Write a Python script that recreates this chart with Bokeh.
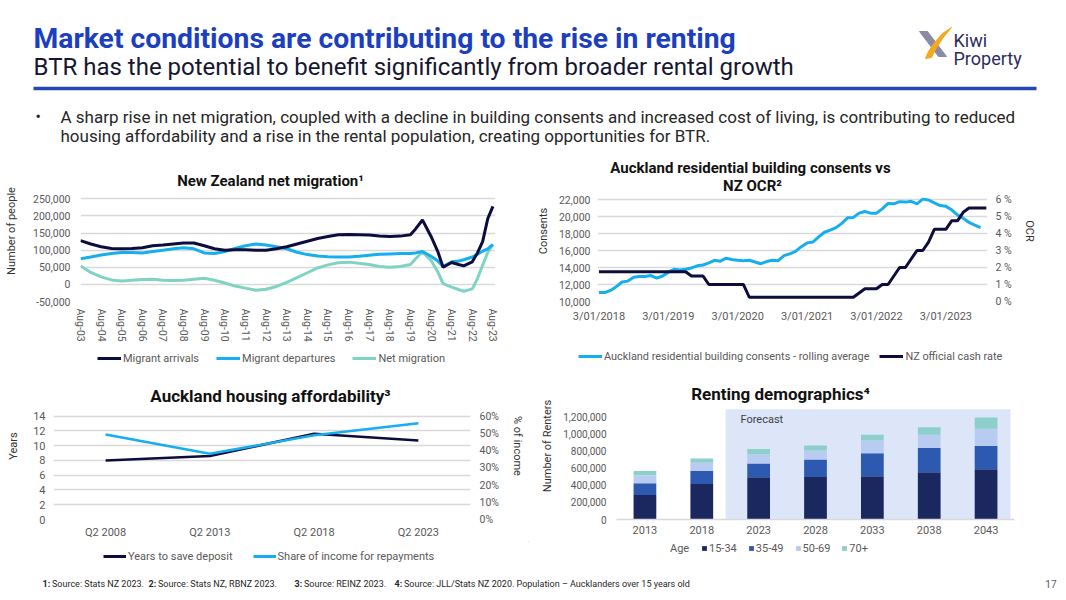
from bokeh.plotting import figure
from bokeh.models import (Range1d, FactorRange, LinearAxis, FixedTicker, NumeralTickFormatter,
                          Legend, LegendItem, ColumnDataSource, Label)
from bokeh.layouts import column, row
from bokeh.embed import file_html
from bokeh.resources import INLINE
from bokeh.core.properties import value

FONT = "Roboto"
NAVY = "#0d0d3d"
SKY = "#17aef0"
TEAL = "#7ed3c2"
GRID = "#d9d9d9"
TICK = "#595959"

# ---------------- data ----------------
mig_dates = ["2003-08", "2004-02", "2004-08", "2005-02", "2005-08", "2006-02", "2006-08", "2007-02",
             "2007-08", "2008-02", "2008-08", "2009-02", "2009-08", "2010-02", "2010-08", "2011-02",
             "2011-08", "2012-02", "2012-08", "2013-02", "2013-08", "2014-02", "2014-08", "2015-02",
             "2015-08", "2016-02", "2016-08", "2017-02", "2017-08", "2018-02", "2018-08", "2019-02",
             "2019-08", "2019-11", "2020-03", "2020-08", "2020-12", "2021-03", "2021-08", "2021-12",
             "2022-03", "2022-08", "2022-11", "2023-02", "2023-05", "2023-08"]
migrant_arrivals = [128, 118, 110, 105, 104, 105, 107, 113, 115, 118, 121, 121, 113, 104, 100, 101,
                    101, 100, 100, 104, 110, 118, 126, 134, 140, 145, 146, 145, 144, 141, 140, 141,
                    145, 162, 188, 140, 95, 50, 64, 58, 54, 66, 92, 125, 192, 228]
migrant_departures = [75, 80, 86, 90, 93, 93, 92, 96, 100, 104, 107, 104, 92, 90, 96, 105,
                      113, 118, 115, 110, 104, 94, 87, 83, 81, 80, 80, 82, 85, 88, 89, 90,
                      90, 92, 96, 82, 68, 52, 66, 68, 72, 80, 88, 97, 104, 117]
net_migration = [54, 35, 22, 13, 10, 12, 14, 15, 12, 11, 12, 15, 18, 12, 4, -5,
                 -11, -17, -14, -6, 6, 20, 34, 48, 57, 63, 65, 62, 58, 52, 50, 52,
                 58, 75, 95, 70, 36, 2, -8, -15, -20, -13, 17, 56, 93, 116]
mig_tick_labels = ["Aug-%02d" % (3 + i) for i in range(21)]

consents_k = [11.05, 11.05, 11.3, 11.75, 12.3, 12.4, 12.85, 12.95, 12.95, 13.05, 12.75, 13.0,
              13.45, 13.8, 13.7, 13.8, 13.95, 14.2, 14.3, 14.55, 14.85, 14.75, 15.1, 14.95,
              14.85, 14.8, 14.85, 14.65, 14.45, 14.7, 14.85, 14.8, 15.4, 15.6, 15.9, 16.45,
              16.9, 17.0, 17.6, 18.15, 18.4, 18.7, 19.2, 19.85, 19.9, 20.4, 20.6, 20.4,
              20.4, 20.9, 21.55, 21.5, 21.75, 21.7, 21.8, 21.5, 22.05, 21.95, 21.6, 21.3,
              21.2, 20.8, 20.2, 19.8, 19.3, 19.0, 18.7]
ocr = [1.75] * 12 + \
      [1.75, 1.75, 1.75, 1.75, 1.5, 1.5, 1.5, 1.0, 1.0, 1.0, 1.0, 1.0] + \
      [1.0, 1.0] + [0.25] * 10 + \
      [0.25] * 9 + [0.5, 0.75, 0.75] + \
      [0.75, 1.0, 1.0, 1.5, 2.0, 2.0, 2.5, 3.0, 3.0, 3.5, 4.25, 4.25] + \
      [4.25, 4.75, 4.75, 5.25, 5.5, 5.5, 5.5, 5.5]
ocr_tick_labels = ["3/01/2018", "3/01/2019", "3/01/2020", "3/01/2021", "3/01/2022", "3/01/2023"]

quarters = ["Q2 2008", "Q2 2013", "Q2 2018", "Q2 2023"]
years_to_save = [8.0, 8.6, 11.6, 10.7]
share_income = [49.3, 38.1, 48.9, 55.8]

rent_years = ["2013", "2018", "2023", "2028", "2033", "2038", "2043"]
age_groups = ["15-34", "35-49", "50-69", "70+"]
age_15_34 = [285000, 415000, 493000, 496000, 504000, 550000, 585000]
age_35_49 = [139000, 151000, 161000, 204000, 269000, 285000, 273000]
age_50_69 = [92000, 96000, 108000, 104000, 147000, 154000, 200000]
age_70p = [50000, 50000, 61000, 58000, 69000, 88000, 131000]
age_colors = ["#1b275f", "#2d5ab0", "#b8cbf1", "#8dcfcb"]


def top_of_range(v_lo, v_hi, px_lo, px_hi, px_top=0.0):
    """range end so that v_hi lands at px_hi when v_lo sits at px_lo (frame bottom)."""
    return v_hi + (px_hi - px_top) * (v_hi - v_lo) / (px_lo - px_hi)


def base_fig(w, h, xr, yr, left, right, bottom):
    p = figure(width=w, height=h, x_range=xr, y_range=yr, toolbar_location=None,
               output_backend="svg", min_border_left=left, min_border_right=right,
               min_border_top=0, min_border_bottom=bottom, outline_line_color=None,
               background_fill_color="white", border_fill_color="white")
    p.xgrid.visible = False
    p.ygrid.grid_line_color = GRID
    p.ygrid.grid_line_width = 1.5
    return p


def style_axis(ax, size="10.5px", standoff=8, label_standoff=8):
    ax.axis_line_color = None
    ax.major_tick_line_color = None
    ax.minor_tick_line_color = None
    ax.major_tick_out = 0
    ax.major_tick_in = 0
    ax.minor_tick_out = 0
    ax.minor_tick_in = 0
    ax.major_label_standoff = standoff
    ax.axis_label_standoff = label_standoff
    ax.major_label_text_font = FONT
    ax.major_label_text_font_size = size
    ax.major_label_text_color = TICK
    ax.axis_label_text_font = FONT
    ax.axis_label_text_font_style = "normal"
    ax.axis_label_text_font_size = "11px"
    ax.axis_label_text_color = "#333333"


def title_label(p, x, y, text, size="15px"):
    p.add_layout(Label(x=x, y=y, x_units="screen", y_units="screen", text=text,
                       text_font=FONT, text_font_size=size, text_font_style="bold",
                       text_color="#111111", text_align="center", text_baseline="middle"))


def blank_fig(w, h):
    return figure(width=w, height=h, x_range=Range1d(0, w), y_range=Range1d(h, 0),
                  x_axis_type=None, y_axis_type=None, toolbar_location=None, output_backend="svg",
                  min_border=0, outline_line_color=None)


def legend_strip(w, h, entries, loc, spacing, gw=24, gh=14, standoff=2, kind="line", size="11px"):
    """Separate strip holding a legend (keyed to proxies styled like the chart's marks)."""
    f = blank_fig(w, h)
    items = []
    for label, color in entries:
        if kind == "line":
            r = f.line([-60, -50], [-60, -60], line_color=color, line_width=3)
        else:
            alpha = 0 if color is None else 1
            r = f.vbar(x=[-60], top=[-50], bottom=[-60], width=5, fill_color=color or "white",
                       fill_alpha=alpha, line_color=None)
        items.append(LegendItem(label=label, renderers=[r]))
    lg = Legend(items=items, location=loc, orientation="horizontal", glyph_width=gw,
                glyph_height=gh, label_standoff=standoff, spacing=spacing, padding=0, margin=0,
                border_line_color=None, background_fill_alpha=0,
                label_text_font=FONT, label_text_font_size=size, label_text_color=TICK,
                label_height=gh)
    f.add_layout(lg)
    return f, lg


# ---------------- header ----------------
hdr = blank_fig(1066, 160)
hdr.text(x=[33], y=[38], text=["Market conditions are contributing to the rise in renting"],
         text_font=value(FONT), text_font_size="28.3px", text_font_style="bold",
         text_color="#1c3fc0", text_baseline="middle")
hdr.text(x=[33], y=[66], text=["BTR has the potential to benefit significantly from broader rental growth"],
         text_font=value(FONT), text_font_size="24px", text_color="#161630", text_baseline="middle")
hdr.segment(x0=[33], y0=[88], x1=[1036], y1=[88], line_color="#2347b5", line_width=3.5)
hdr.text(x=[35], y=[116], text=["\u2022"], text_font=value(FONT), text_font_size="16px",
         text_color="#262626", text_baseline="middle")
hdr.text(x=[60, 60], y=[116, 135],
         text=["A sharp rise in net migration, coupled with a decline in building consents and increased cost of living, is contributing to reduced",
               "housing affordability and a rise in the rental population, creating opportunities for BTR."],
         text_font=value(FONT), text_font_size="17px", text_color="#262626", text_baseline="middle")
# logo
hdr.patch(x=[919, 927, 946, 938], y=[31, 31, 56, 56], color="#8b8ca3")
hdr.patch(x=[951, 942, 934, 928, 925, 931, 935, 942], y=[27, 33, 42, 51, 58, 57, 49, 38], color="#f4a81d")
hdr.text(x=[953, 953], y=[40, 58], text=["Kiwi", "Property"], text_font=value(FONT),
         text_font_size="18px", text_color="#2b2d5c", text_baseline="middle")

# ---------------- top-left: migration ----------------
mig_x = [(int(d[:4]) - 2003) * 12 + int(d[5:]) - 8 for d in mig_dates]
TL_W, TL_H, TL_L, TL_R, TL_B = 528, 190, 80, 33, 49
fb = TL_H - TL_B
tl_top = top_of_range(-50000, 250000, fb, 38.3)
tl = base_fig(TL_W, TL_H, Range1d(0, 241.5), Range1d(-50000, tl_top), TL_L, TL_R, TL_B)
tl.ygrid.ticker = FixedTicker(ticks=list(range(-50000, 250001, 50000)))
tl.line(mig_x, [v * 1000 for v in net_migration], line_color=TEAL, line_width=3)
tl.line(mig_x, [v * 1000 for v in migrant_departures], line_color=SKY, line_width=3)
tl.line(mig_x, [v * 1000 for v in migrant_arrivals], line_color=NAVY, line_width=3)
tl.yaxis.ticker = FixedTicker(ticks=list(range(-50000, 250001, 50000)))
tl.yaxis.formatter = NumeralTickFormatter(format="0,0")
tl.yaxis.axis_label = "Number of people"
tl.xaxis.ticker = FixedTicker(ticks=[12 * i for i in range(21)])
tl.xaxis.major_label_overrides = {12 * i: lab for i, lab in enumerate(mig_tick_labels)}
tl.xaxis.major_label_orientation = "vertical"
style_axis(tl.yaxis[0], standoff=10, label_standoff=12)
style_axis(tl.xaxis[0], standoff=7)
title_label(tl, 190, 121, "New Zealand net migration\u00b9")
tl_leg, _ = legend_strip(TL_W, 22, [("Migrant arrivals", NAVY), ("Migrant departures", SKY),
                                    ("Net migration", TEAL)], (97, 7), spacing=17)

# ---------------- top-right: consents vs OCR ----------------
TR_W, TR_H, TR_L, TR_R, TR_B = 538, 190, 69, 79, 42
fb = TR_H - TR_B
tr_top = top_of_range(10000, 22000, fb, 41)
ocr_top = top_of_range(0, 6, fb, 41)
tr = base_fig(TR_W, TR_H, Range1d(-0.25, 67.2), Range1d(10000, tr_top), TR_L, TR_R, TR_B)
tr.extra_y_ranges = {"ocr": Range1d(0, ocr_top)}
tr.ygrid.ticker = FixedTicker(ticks=list(range(10000, 22001, 2000)))
month_idx = list(range(len(ocr)))
tr.line(month_idx[:len(consents_k)], [v * 1000 for v in consents_k], line_color=SKY, line_width=3)
tr.line(month_idx, ocr, line_color=NAVY, line_width=3, y_range_name="ocr")
tr.yaxis.ticker = FixedTicker(ticks=list(range(10000, 22001, 2000)))
tr.yaxis.formatter = NumeralTickFormatter(format="0,0")
tr.yaxis.axis_label = "Consents"
tr.xaxis.ticker = FixedTicker(ticks=[12 * i for i in range(6)])
tr.xaxis.major_label_overrides = {12 * i: lab for i, lab in enumerate(ocr_tick_labels)}
style_axis(tr.yaxis[0], standoff=7, label_standoff=6)
style_axis(tr.xaxis[0], "11px", standoff=8)
ax_r = LinearAxis(y_range_name="ocr", ticker=FixedTicker(ticks=list(range(7))),
                  major_label_overrides={i: "%d %%" % i for i in range(7)}, axis_label="OCR")
style_axis(ax_r, standoff=8, label_standoff=8)
tr.add_layout(ax_r, "right")
title_label(tr, 153, 134, "Auckland residential building consents vs")
title_label(tr, 155, 116, "NZ OCR\u00b2")
tr_leg, _ = legend_strip(TR_W, 22, [("Auckland residential building consents - rolling average", SKY),
                                    ("NZ official cash rate", NAVY)], (50, 9), spacing=10,
                         size="10.9px")

# ---------------- bottom-left: affordability ----------------
BL_W, BL_H, BL_L, BL_R, BL_B = 528, 169, 53, 58, 20
fb = BL_H - BL_B
bl_top = top_of_range(0, 14, fb, 44.2)
pct_top = top_of_range(0, 60, fb, 44.2)
bl = base_fig(BL_W, BL_H, FactorRange(factors=quarters), Range1d(0, bl_top), BL_L, BL_R, BL_B)
bl.extra_y_ranges = {"pct": Range1d(0, pct_top)}
bl.ygrid.ticker = FixedTicker(ticks=list(range(0, 15, 2)))
bl.line(quarters, years_to_save, line_color=NAVY, line_width=2.5)
bl.line(quarters, share_income, line_color=SKY, line_width=2.5, y_range_name="pct")
bl.yaxis.ticker = FixedTicker(ticks=list(range(0, 15, 2)))
bl.yaxis.axis_label = "Years"
style_axis(bl.yaxis[0], "11px", standoff=8, label_standoff=10)
style_axis(bl.xaxis[0], "11px", standoff=6)
ax_p = LinearAxis(y_range_name="pct", ticker=FixedTicker(ticks=list(range(0, 61, 10))),
                  major_label_overrides={i: "%d%%" % i for i in range(0, 61, 10)}, axis_label="% of income")
style_axis(ax_p, standoff=9, label_standoff=9)
bl.add_layout(ax_p, "right")
title_label(bl, 217, 124, "Auckland housing affordability\u00b3", "17px")
bl_leg, _ = legend_strip(BL_W, 27, [("Years to save deposit", NAVY),
                                    ("Share of income for repayments", SKY)], (103, 5), spacing=20, gw=23)

# ---------------- bottom-right: renting demographics ----------------
BR_W, BR_H, BR_L, BR_R, BR_B = 538, 169, 88, 52, 20
fb = BR_H - BR_B
br_top = top_of_range(0, 1200000, fb, 44.7)
br = base_fig(BR_W, BR_H, FactorRange(factors=rent_years), Range1d(0, br_top), BR_L, BR_R, BR_B)
br.ygrid.visible = False
br.quad(left=[("2023", -0.58)], right=[("2043", 0.43)], bottom=[0], top=[1.064 * 1200000 + 8000],
        fill_color="#dde6f9", line_color=None)
src = ColumnDataSource(dict(year=rent_years, a=age_15_34, b=age_35_49, c=age_50_69, d=age_70p))
br.vbar_stack(["a", "b", "c", "d"], x="year", width=0.4, source=src,
              color=age_colors, line_color=None)
br.yaxis.ticker = FixedTicker(ticks=list(range(0, 1200001, 200000)))
br.yaxis.formatter = NumeralTickFormatter(format="0,0")
br.yaxis.axis_label = "Number of Renters"
style_axis(br.yaxis[0], "10px", standoff=10, label_standoff=6)
style_axis(br.xaxis[0], "11px", standoff=6)
br.xaxis.axis_line_color = GRID
br.xaxis.axis_line_width = 1.5
br.add_layout(Label(x=124, y=100, x_units="screen", y_units="screen", text="Forecast",
                    text_font=FONT, text_font_size="11px", text_color="#404040",
                    text_baseline="middle"))
title_label(br, 164, 126, "Renting demographics\u2074", "17px")
br_leg, lg = legend_strip(BR_W, 27, [("Age", None)] + list(zip(age_groups, age_colors)), (134, 13.5),
                          spacing=11, gw=6, gh=6, standoff=2, kind="bar")
lg.label_height = 13

# ---------------- footer ----------------
foot_bold = ["1:", "2:", "3:", "4:"]
foot_text = ["Source: Stats NZ  2023.", "Source: Stats NZ, RBNZ 2023.", "Source: REINZ 2023.",
             "Source: JLL/Stats NZ 2020. Population \u2013 Aucklanders over 15 years old"]
foot_x = [42, 148, 294, 394]
ftr = blank_fig(1066, 32)
ftr.text(x=foot_x, y=[15] * 4, text=foot_bold, text_font=value(FONT),
         text_font_size="9px", text_font_style="bold", text_color="#262626", text_baseline="middle")
ftr.text(x=[x + 9.5 for x in foot_x], y=[15] * 4, text=foot_text,
         text_font=value(FONT), text_font_size="9px", text_color="#262626", text_baseline="middle")
ftr.text(x=[1056], y=[15], text=["17"], text_font=value(FONT), text_font_size="10px",
         text_color="#595959", text_baseline="middle", text_align="right")

layout = column(hdr, row(tl, tr), row(tl_leg, tr_leg), row(bl, br), row(bl_leg, br_leg), ftr)
open("out.html", "w").write(file_html(layout, INLINE))
